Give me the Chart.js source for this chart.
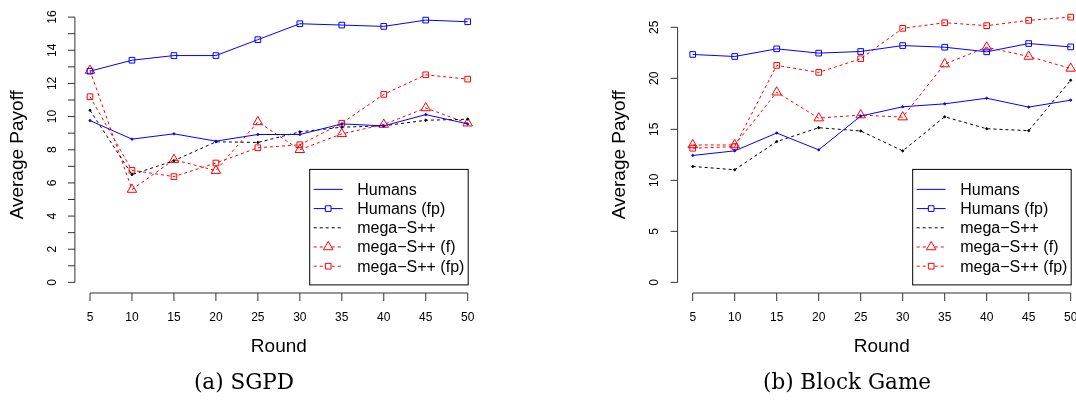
<!DOCTYPE html>
<html>
<head>
<meta charset="utf-8">
<script src="https://cdn.jsdelivr.net/npm/chart.js@4/dist/chart.umd.min.js"></script>
<style>
  body { margin: 0; width: 1076px; height: 401px; overflow: hidden; background: #fff; position: relative; }
  #sgpd { position: absolute; left: 0; top: 0; }
  #block { position: absolute; left: 540px; top: 0; }
</style>
</head>
<body>
<canvas id="sgpd" width="540" height="401"></canvas>
<canvas id="block" width="560" height="401"></canvas>
<script>
let rounds = [5, 10, 15, 20, 25, 30, 35, 40, 45, 50];
let seriesNames = ["Humans", "Humans (fp)", "mega\u2212S++", "mega\u2212S++ (f)", "mega\u2212S++ (fp)"];

// (a) SGPD
let sgpdHumans = [9.76, 8.64, 8.96, 8.52, 8.92, 8.92, 9.56, 9.44, 10.12, 9.56];
let sgpdHumansFp = [12.74, 13.4, 13.68, 13.68, 14.64, 15.6, 15.52, 15.44, 15.82, 15.72];
let sgpdMega = [10.38, 6.5, 7.34, 8.48, 8.44, 9.08, 9.36, 9.44, 9.78, 9.84];
let sgpdMegaF = [12.78, 5.6, 7.4, 6.74, 9.68, 8.0, 8.96, 9.52, 10.52, 9.6];
let sgpdMegaFp = [11.2, 6.76, 6.38, 7.2, 8.12, 8.3, 9.6, 11.34, 12.52, 12.26];
let sgpdYTicks = [0, 1, 2, 3, 4, 5, 6, 7, 8, 9, 10, 11, 12, 13, 14, 15, 16];
let sgpdYLabels = [0, 2, 4, 6, 8, 10, 12, 14, 16];

// (b) Block Game
let blockHumans = [12.44, 12.89, 14.64, 12.99, 16.3, 17.21, 17.5, 18.05, 17.18, 17.86];
let blockHumansFp = [22.34, 22.14, 22.89, 22.47, 22.63, 23.21, 23.05, 22.6, 23.41, 23.08];
let blockMega = [11.36, 11.04, 13.8, 15.16, 14.84, 12.89, 16.23, 15.06, 14.87, 19.81];
let blockMegaF = [13.47, 13.47, 18.64, 16.1, 16.4, 16.2, 21.4, 23.05, 22.14, 20.97];
let blockMegaFp = [13.15, 13.31, 21.27, 20.58, 21.92, 24.9, 25.45, 25.16, 25.68, 26.0];
let blockYTicks = [0, 5, 10, 15, 20, 25];
let blockYLabels = [0, 5, 10, 15, 20, 25];

let blue = "#0000ff";
let red = "#ff0000";
let axisColor = "#333";
let sans = "'Liberation Sans', Arial, sans-serif";

let toPoints = (values) => values.map((v, i) => ({ x: rounds[i], y: v }));

let makeDatasets = (humans, humansFp, mega, megaF, megaFp) => {
  let base = { borderWidth: 1, fill: false, tension: 0, pointBorderWidth: 1, pointBackgroundColor: "rgba(0,0,0,0)" };
  return [
    { ...base, label: seriesNames[0], data: toPoints(humans), borderColor: blue,
      pointRadius: 1, pointBackgroundColor: blue, pointBorderColor: blue, marker: false },
    { ...base, label: seriesNames[1], data: toPoints(humansFp), borderColor: blue,
      pointStyle: "rect", pointRadius: 4, pointBorderColor: blue, marker: true },
    { ...base, label: seriesNames[2], data: toPoints(mega), borderColor: "#000", borderDash: [3, 3],
      pointRadius: 1, pointBackgroundColor: "#000", pointBorderColor: "#000", marker: false },
    { ...base, label: seriesNames[3], data: toPoints(megaF), borderColor: red, borderDash: [3, 3],
      pointStyle: "triangle", pointRadius: 5.5, pointBorderColor: red, marker: true },
    { ...base, label: seriesNames[4], data: toPoints(megaFp), borderColor: red, borderDash: [3, 3],
      pointStyle: "rect", pointRadius: 4, pointBorderColor: red, marker: true },
  ];
};

// R style axes, titles, caption and boxed legend
let rAxes = {
  id: "rAxes",
  afterDatasetsDraw(chart, args, opts) {
    let ctx = chart.ctx;
    let area = chart.chartArea;
    let xs = chart.scales.x;
    let ys = chart.scales.y;
    ctx.save();
    ctx.strokeStyle = axisColor;
    ctx.lineWidth = 1;
    ctx.setLineDash([]);

    // y axis
    let ax = area.left;
    ctx.beginPath();
    ctx.moveTo(ax, ys.getPixelForValue(opts.yTicks[0]));
    ctx.lineTo(ax, ys.getPixelForValue(opts.yTicks[opts.yTicks.length - 1]));
    opts.yTicks.forEach((t) => {
      let py = ys.getPixelForValue(t);
      ctx.moveTo(ax, py);
      ctx.lineTo(ax - 7, py);
    });
    // x axis
    let ay = area.bottom;
    ctx.moveTo(xs.getPixelForValue(rounds[0]), ay);
    ctx.lineTo(xs.getPixelForValue(rounds[rounds.length - 1]), ay);
    rounds.forEach((r) => {
      let px = xs.getPixelForValue(r);
      ctx.moveTo(px, ay);
      ctx.lineTo(px, ay + 8);
    });
    ctx.stroke();

    ctx.fillStyle = "#000";
    ctx.textAlign = "center";
    ctx.textBaseline = "middle";
    ctx.font = "12px " + sans;
    rounds.forEach((r) => {
      ctx.fillText(String(r), xs.getPixelForValue(r), ay + 24.5);
    });
    opts.yLabels.forEach((t) => {
      ctx.save();
      ctx.translate(ax - 23.5, ys.getPixelForValue(t));
      ctx.rotate(-Math.PI / 2);
      ctx.fillText(String(t), 0, 1);
      ctx.restore();
    });

    // axis titles
    ctx.font = "19px " + sans;
    let midX = (xs.getPixelForValue(rounds[0]) + xs.getPixelForValue(rounds[rounds.length - 1])) / 2;
    ctx.fillText("Round", midX, ay + 54);
    ctx.save();
    ctx.translate(ax - 57.5, (area.top + area.bottom) / 2 + 5);
    ctx.rotate(-Math.PI / 2);
    ctx.fillText("Average Payoff", 0, 0);
    ctx.restore();

    // caption
    ctx.font = "21.5px 'DejaVu Serif', serif";
    ctx.fillText(opts.caption, opts.captionX, 383);

    // legend
    let right = xs.getPixelForValue(rounds[rounds.length - 1]) + 0.5;
    let bottom = ys.getPixelForValue(0) + 2.5;
    let w = 158.5, h = 115.5;
    let left = right - w, top = bottom - h;
    ctx.fillStyle = "#fff";
    ctx.fillRect(left, top, w, h);
    ctx.strokeStyle = "#000";
    ctx.strokeRect(left, top, w, h);
    ctx.font = "16px " + sans;
    ctx.textAlign = "left";
    chart.data.datasets.forEach((ds, i) => {
      let rowY = top + 20 + i * 19.2;
      ctx.strokeStyle = ds.borderColor;
      ctx.lineWidth = 1;
      ctx.setLineDash(ds.borderDash || []);
      ctx.beginPath();
      ctx.moveTo(left + 4, rowY);
      ctx.lineTo(left + 33, rowY);
      ctx.stroke();
      ctx.setLineDash([]);
      if (ds.marker) {
        ctx.fillStyle = "#fff";
        ctx.strokeStyle = ds.pointBorderColor;
        Chart.helpers.drawPoint(ctx, {
          pointStyle: ds.pointStyle, radius: ds.pointRadius, rotation: 0, borderWidth: 1,
        }, left + 18.5, rowY);
      }
      ctx.fillStyle = "#000";
      ctx.fillText(ds.label, left + 47.5, rowY + 1);
    });
    ctx.restore();
  },
};

let makeChart = (id, datasets, yMax, yTicks, yLabels, caption, captionX, padding) => {
  let ext = yMax * 0.04;
  let xExt = (rounds[rounds.length - 1] - rounds[0]) * 0.04;
  return new Chart(document.getElementById(id), {
    type: "line",
    data: { datasets: datasets },
    options: {
      responsive: false,
      animation: false,
      layout: { padding: padding },
      scales: {
        x: { type: "linear", min: rounds[0] - xExt, max: rounds[rounds.length - 1] + xExt, display: false },
        y: { type: "linear", min: -ext, max: yMax + ext, display: false },
      },
      plugins: {
        legend: { display: false },
        tooltip: { enabled: false },
        rAxes: { yTicks: yTicks, yLabels: yLabels, caption: caption, captionX: captionX },
      },
    },
    plugins: [rAxes],
  });
};

makeChart("sgpd", makeDatasets(sgpdHumans, sgpdHumansFp, sgpdMega, sgpdMegaF, sgpdMegaFp),
  16, sgpdYTicks, sgpdYLabels, "(a) SGPD", 244,
  { left: 74.9, right: 57.2, top: 4.7, bottom: 108 });

makeChart("block", makeDatasets(blockHumans, blockHumansFp, blockMega, blockMegaF, blockMegaFp),
  26, blockYTicks, blockYLabels, "(b) Block Game", 307,
  { left: 137.6, right: 14.2, top: 4.8, bottom: 108 });
</script>
</body>
</html>
